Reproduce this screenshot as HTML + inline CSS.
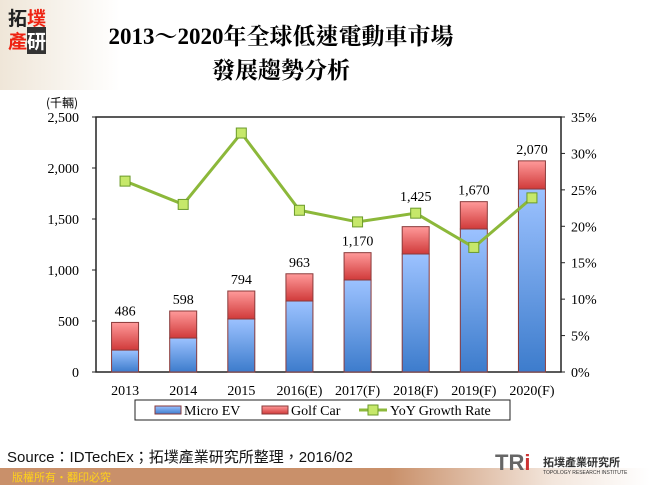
<!DOCTYPE html>
<html><head><meta charset="utf-8"><style>
body{margin:0;width:650px;height:485px;overflow:hidden;background:#fff;font-family:"Liberation Serif","Noto Serif CJK SC",serif;position:relative}
.t{position:absolute;left:0;width:562px;text-align:center;font-weight:bold;font-size:23px;color:#000}
</style></head><body>
<div style="position:absolute;left:0;top:0;width:120px;height:90px;background:linear-gradient(90deg,#efe6d8,#fff)"></div>
<div style="position:absolute;left:8px;top:6px;width:42px;height:46px;font:bold 19px 'Noto Sans CJK TC',sans-serif;line-height:23px">
<span style="color:#222">拓</span><span style="color:#e21">墣</span><br><span style="color:#e21">產</span><span style="color:#fff;background:#333">研</span></div>
<div class="t" style="top:18px;font-family:'Liberation Serif','Noto Serif CJK TC',serif">2013～2020年全球低速電動車市場</div>
<div class="t" style="top:52px;font-family:'Liberation Serif','Noto Serif CJK TC',serif">發展趨勢分析</div>
<svg id="c" width="650" height="485" style="position:absolute;left:0;top:0" font-family="Liberation Serif, serif" font-size="14"></svg>
<div style="position:absolute;left:7px;top:446px;font:15px 'Liberation Sans','Noto Sans CJK TC',sans-serif;color:#111">Source：IDTechEx；拓墣產業研究所整理，2016/02</div>
<div style="position:absolute;left:0;top:468px;width:650px;height:17px;background:linear-gradient(90deg,#c9906a 0,#c9906a 60%,#f3e6dc 85%,#fff 100%)"></div>
<div style="position:absolute;left:12px;top:469px;font:11px 'Noto Sans CJK TC',sans-serif;color:#ffd21a">版權所有‧翻印必究</div>
<div style="position:absolute;left:495px;top:450px;font:bold 22px 'Liberation Sans',sans-serif;color:#666">TR<span style="color:#c33">i</span><span style="font:bold 11px 'Noto Sans CJK TC',sans-serif;color:#333;position:absolute;left:48px;top:4px;white-space:nowrap">拓墣產業研究所</span><span style="font:5px 'Liberation Sans',sans-serif;color:#333;position:absolute;left:48px;top:20px;white-space:nowrap">TOPOLOGY RESEARCH INSTITUTE</span></div>
<script>
const categories=["2013","2014","2015","2016(E)","2017(F)","2018(F)","2019(F)","2020(F)"];
const microEV=[215,333,520,696,902,1157,1402,1794];
const totals=[486,598,794,963,1170,1425,1670,2070];
const totalLabels=["486","598","794","963","1,170","1,425","1,670","2,070"];
const growth=[26.2,23.0,32.8,22.2,20.6,21.8,17.1,23.9];
const leftTicks=[0,500,1000,1500,2000,2500];
const leftTickLabels=["0","500","1,000","1,500","2,000","2,500"];
const rightTicks=[0,5,10,15,20,25,30,35];
const X0=96,X1=561,Y0=372,Y1=117;
const yL=v=>Y0-(v/2500)*(Y0-Y1);
const yR=v=>Y0-(v/35)*(Y0-Y1);
const step=(X1-X0)/categories.length;
const xC=i=>X0+step*(i+0.5);
const svg=document.getElementById('c');
const NS='http://www.w3.org/2000/svg';
function mk(t,a,p){const e=document.createElementNS(NS,t);for(const k in a)e.setAttribute(k,a[k]);(p||svg).appendChild(e);return e;}
const defs=mk('defs',{});
defs.innerHTML='<linearGradient id="gb" x1="0" y1="0" x2="0" y2="1"><stop offset="0" stop-color="#9cc2ff"/><stop offset="1" stop-color="#3d7ccc"/></linearGradient><linearGradient id="gr" x1="0" y1="0" x2="0" y2="1"><stop offset="0" stop-color="#ff9a9a"/><stop offset="1" stop-color="#d03a3a"/></linearGradient>';
const plot=mk('rect',{x:X0,y:Y1,width:X1-X0,height:Y0-Y1,fill:'none',stroke:'#222','stroke-width':1.5});


leftTicks.forEach((v,i)=>{
 const t=mk('text',{x:X0-17,y:yL(v)+5,'text-anchor':'end'});t.textContent=leftTickLabels[i];
 
 
 mk('line',{x1:X0-4,x2:X0,y1:yL(v),y2:yL(v),stroke:'#222'});
});
rightTicks.forEach(v=>{
 const t=mk('text',{x:X1+10,y:yR(v)+5});t.textContent=v+'%';
 
 
 mk('line',{x1:X1,x2:X1+4,y1:yR(v),y2:yR(v),stroke:'#222'});
});
const u=mk('text',{x:46,y:107,'font-size':12,'font-family':'Noto Sans CJK TC, sans-serif'});u.textContent='(千輛)';


const bw=27;
categories.forEach((c,i)=>{
 const x=xC(i)-bw/2;
 const b=mk('rect',{x:x,y:yL(microEV[i]),width:bw,height:Y0-yL(microEV[i]),fill:'url(#gb)',stroke:'#8a3a3a','stroke-width':1});
 
 
 const r=mk('rect',{x:x,y:yL(totals[i]),width:bw,height:yL(microEV[i])-yL(totals[i]),fill:'url(#gr)',stroke:'#8a3a3a','stroke-width':1});
 
 
 let ly=yL(totals[i])-7;
 const my=yR(growth[i]);
 if(Math.abs(ly-my)<16 && my<yL(totals[i])+6) ly=Math.min(ly,my-12);
 const l=mk('text',{x:xC(i),y:ly,'text-anchor':'middle'});l.textContent=totalLabels[i];
 
 
 const xl=mk('text',{x:xC(i),y:395,'text-anchor':'middle'});xl.textContent=c;
 
 
});
const pl=mk('polyline',{points:growth.map((g,i)=>xC(i)+','+yR(g)).join(' '),fill:'none',stroke:'#8cb83a','stroke-width':3});


growth.forEach((g,i)=>{
 const m=mk('rect',{x:xC(i)-5,y:yR(g)-5,width:10,height:10,fill:'#c6e86a',stroke:'#6a9a2a'});
 
 
});
const lg=mk('g',{});


mk('rect',{x:135,y:400,width:375,height:20,fill:'#fff',stroke:'#222'},lg);
mk('rect',{x:155,y:406,width:26,height:8,fill:'url(#gb)',stroke:'#8a3a3a'},lg);
let t=mk('text',{x:184,y:415},lg);t.textContent='Micro EV';
mk('rect',{x:262,y:406,width:26,height:8,fill:'url(#gr)',stroke:'#8a3a3a'},lg);
t=mk('text',{x:291,y:415},lg);t.textContent='Golf Car';
mk('line',{x1:359,x2:387,y1:410,y2:410,stroke:'#8cb83a','stroke-width':3},lg);
mk('rect',{x:368,y:405,width:10,height:10,fill:'#c6e86a',stroke:'#6a9a2a'},lg);
t=mk('text',{x:390,y:415},lg);t.textContent='YoY Growth Rate';
</script>
</body></html>
